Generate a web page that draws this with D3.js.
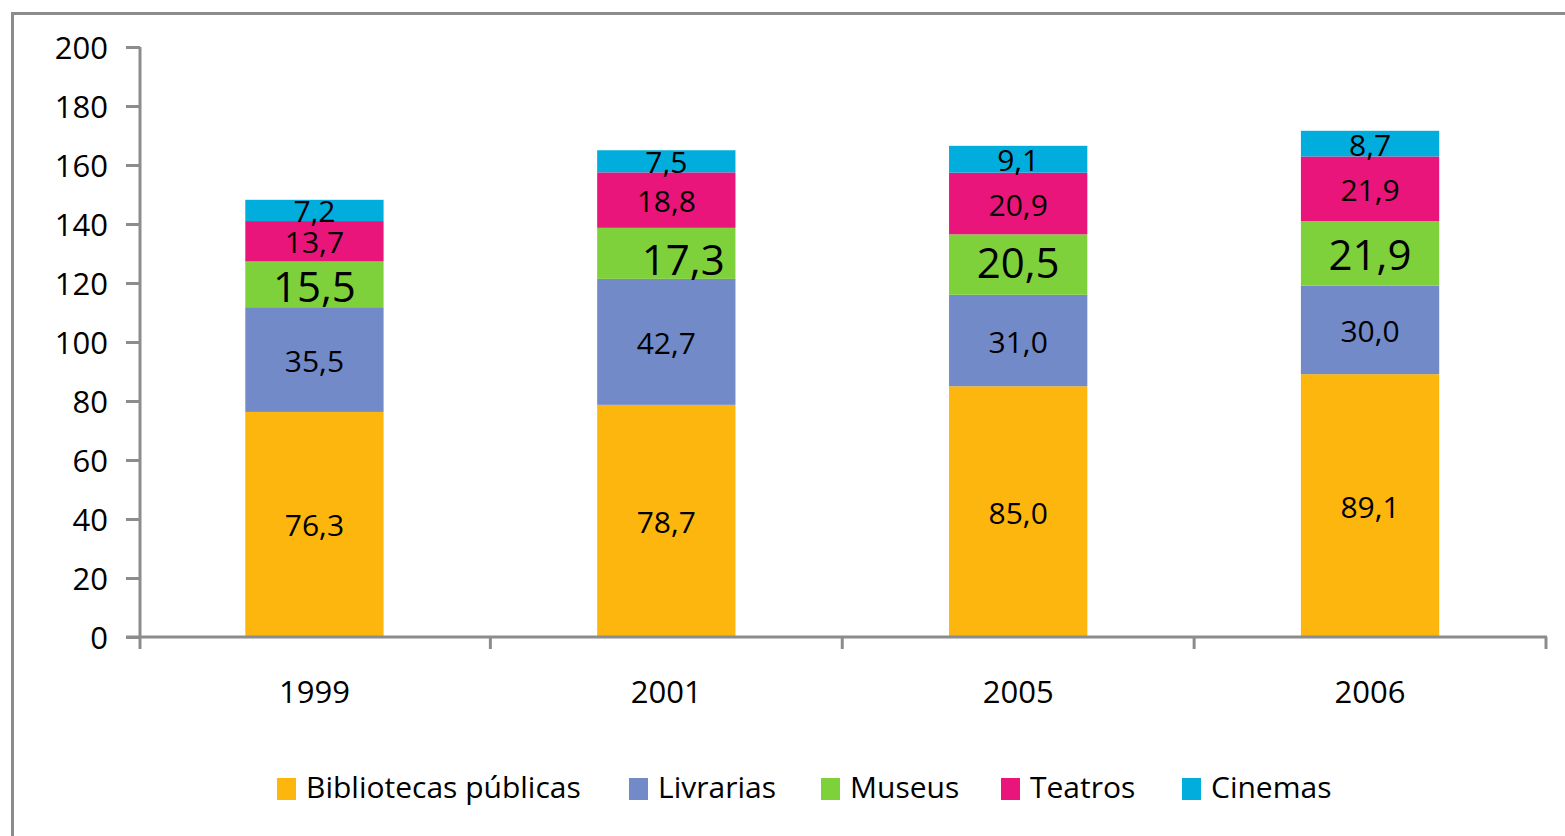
<!DOCTYPE html>
<html>
<head>
<meta charset="utf-8">
<script src="https://cdn.jsdelivr.net/npm/d3@7"></script>
<style>
  body { margin: 0; background: #fff; }
  svg text { font-family: "Open Sans", sans-serif; fill: #000; }
</style>
</head>
<body>
<div id="chart"></div>
<script>
// data
var years = ["1999", "2001", "2005", "2006"];
var seriesNames = ["Bibliotecas públicas", "Livrarias", "Museus", "Teatros", "Cinemas"];
var bibliotecas = [76.3, 78.7, 85.0, 89.1];
var livrarias = [35.5, 42.7, 31.0, 30.0];
var museus = [15.5, 17.3, 20.5, 21.9];
var teatros = [13.7, 18.8, 20.9, 21.9];
var cinemas = [7.2, 7.5, 9.1, 8.7];
var colors = ["#FDB60D", "#728AC8", "#7FD13B", "#EA157A", "#00ADDC"];
var yTicks = [0, 20, 40, 60, 80, 100, 120, 140, 160, 180, 200];

var width = 1565, height = 836;
var margin = {top: 47, right: 18, bottom: 199, left: 140};

var svg = d3.select("#chart").append("svg")
    .attr("width", width)
    .attr("height", height);

// outer frame
svg.append("rect")
    .attr("x", 12.5).attr("y", 13.5)
    .attr("width", width + 20).attr("height", height + 20)
    .attr("fill", "none")
    .attr("stroke", "#8c8c8c")
    .attr("stroke-width", 3);

var table = years.map(function(y, i) {
  return {
    year: y,
    "Bibliotecas públicas": bibliotecas[i],
    "Livrarias": livrarias[i],
    "Museus": museus[i],
    "Teatros": teatros[i],
    "Cinemas": cinemas[i]
  };
});
var stacked = d3.stack().keys(seriesNames)(table);

var x = d3.scaleBand()
    .domain(years)
    .range([138.5, 1546])
    .paddingInner(0.607)
    .paddingOuter(0.3035);

var y = d3.scaleLinear()
    .domain([0, 200])
    .range([height - margin.bottom, margin.top]);

// bars
var layers = svg.append("g").selectAll("g")
    .data(stacked)
    .join("g")
    .attr("fill", function(d, i) { return colors[i]; });

layers.selectAll("rect")
    .data(function(d) { return d; })
    .join("rect")
    .attr("x", function(d) { return x(d.data.year); })
    .attr("y", function(d) { return y(d[1]); })
    .attr("width", x.bandwidth())
    .attr("height", function(d) { return y(d[0]) - y(d[1]); });

// value labels (museus labels are bigger, one of them was nudged in the original)
var museusShift = {"1999": [0, 4], "2001": [17, 8], "2005": [0, 0], "2006": [0, 3]};
layers.each(function(layer, i) {
  d3.select(this).selectAll("text")
    .data(layer)
    .join("text")
    .attr("x", function(d) {
      var dx = i == 2 ? museusShift[d.data.year][0] : 0;
      return x(d.data.year) + x.bandwidth() / 2 + dx;
    })
    .attr("y", function(d) {
      var dy = i == 2 ? museusShift[d.data.year][1] + 2 : 4;
      return (y(d[0]) + y(d[1])) / 2 + dy;
    })
    .attr("text-anchor", "middle")
    .attr("dominant-baseline", "middle")
    .style("font-size", i == 2 ? "42px" : "30px")
    .text(function(d) { return (d[1] - d[0]).toFixed(1).replace(".", ","); });
});

// y axis
var yAxis = svg.append("g")
    .attr("transform", "translate(" + margin.left + ",0)")
    .call(d3.axisLeft(y).tickValues(yTicks).tickSize(14).tickPadding(18).tickFormat(d3.format("d")));
yAxis.select(".domain").attr("stroke", "#8c8c8c").attr("stroke-width", 3)
    .attr("d", "M0," + (height - margin.bottom) + "V" + margin.top);
yAxis.selectAll(".tick line").attr("stroke", "#8c8c8c").attr("stroke-width", 3);
yAxis.selectAll(".tick text").style("font-size", "31px").attr("dy", "0.38em");

// x axis with ticks between categories
var xAxis = svg.append("g")
    .attr("transform", "translate(0," + (height - margin.bottom) + ")");
xAxis.append("line")
    .attr("x1", margin.left - 14).attr("x2", 1547)
    .attr("stroke", "#8c8c8c").attr("stroke-width", 3);
var bounds = years.map(function(yr) { return x(yr) - x.step() * x.paddingInner() / 2; });
bounds[0] = margin.left;
bounds.push(1546);
xAxis.selectAll(".xt")
    .data(bounds)
    .join("line")
    .attr("x1", function(d) { return d; }).attr("x2", function(d) { return d; })
    .attr("y1", 0).attr("y2", 12)
    .attr("stroke", "#8c8c8c").attr("stroke-width", 3);
xAxis.selectAll("text")
    .data(years)
    .join("text")
    .attr("x", function(d) { return x(d) + x.bandwidth() / 2; })
    .attr("y", 58)
    .attr("text-anchor", "middle")
    .attr("dominant-baseline", "middle")
    .style("font-size", "31px")
    .text(function(d) { return d; });

// legend
var legendX = [277, 629, 821, 1001, 1182];
var legend = svg.append("g").selectAll("g")
    .data(seriesNames)
    .join("g")
    .attr("transform", function(d, i) { return "translate(" + legendX[i] + ",778)"; });
legend.append("rect")
    .attr("width", 19).attr("height", 22)
    .attr("fill", function(d, i) { return colors[i]; });
legend.append("text")
    .attr("x", 29).attr("y", 12)
    .attr("dominant-baseline", "middle")
    .style("font-size", "30px")
    .text(function(d) { return d; });
</script>
</body>
</html>
